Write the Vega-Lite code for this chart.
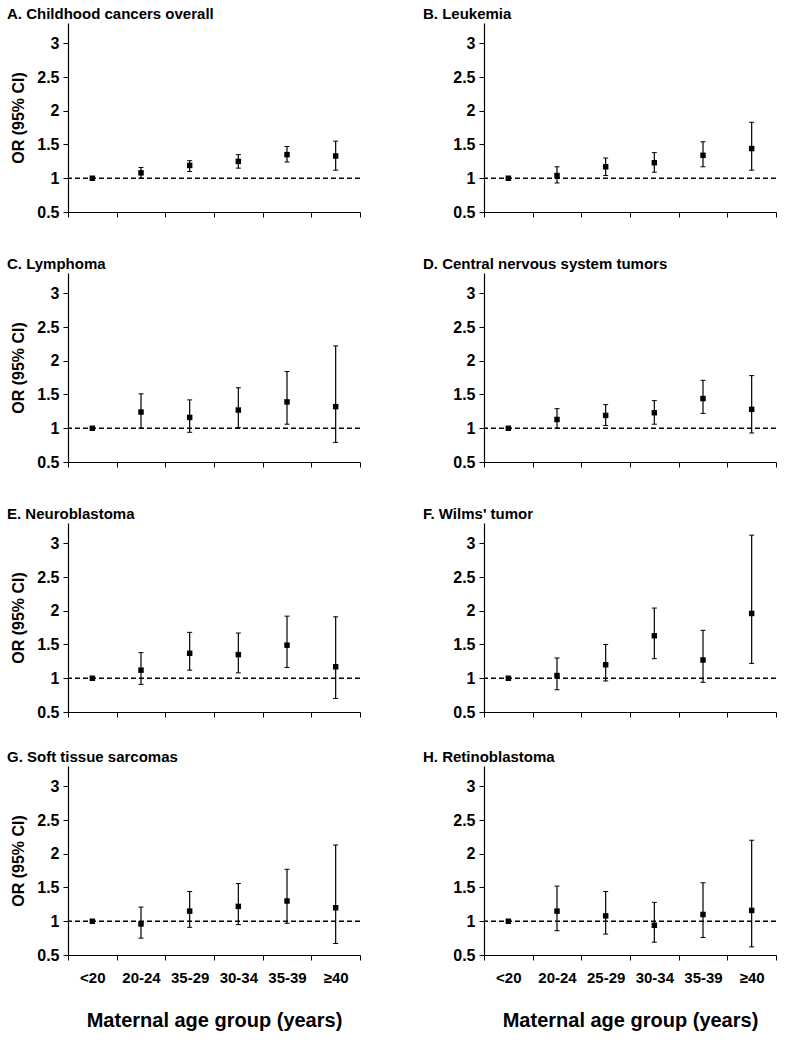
{
  "$schema": "https://vega.github.io/schema/vega-lite/v6.json",
  "padding": {"left": 7, "top": 7, "right": 5, "bottom": 5},
  "background": "white",
  "data": {"values": [
    {"panel": "A", "age": "<20", "or": 1.00, "lo": null, "hi": null},
    {"panel": "A", "age": "20-24", "or": 1.08, "lo": 1.00, "hi": 1.16},
    {"panel": "A", "age": "25-29", "or": 1.19, "lo": 1.10, "hi": 1.26},
    {"panel": "A", "age": "30-34", "or": 1.25, "lo": 1.15, "hi": 1.35},
    {"panel": "A", "age": "35-39", "or": 1.35, "lo": 1.24, "hi": 1.47},
    {"panel": "A", "age": "≥40", "or": 1.33, "lo": 1.12, "hi": 1.55},
    {"panel": "B", "age": "<20", "or": 1.00, "lo": null, "hi": null},
    {"panel": "B", "age": "20-24", "or": 1.04, "lo": 0.93, "hi": 1.17},
    {"panel": "B", "age": "25-29", "or": 1.17, "lo": 1.04, "hi": 1.30},
    {"panel": "B", "age": "30-34", "or": 1.23, "lo": 1.09, "hi": 1.38},
    {"panel": "B", "age": "35-39", "or": 1.34, "lo": 1.17, "hi": 1.54},
    {"panel": "B", "age": "≥40", "or": 1.44, "lo": 1.12, "hi": 1.83},
    {"panel": "C", "age": "<20", "or": 1.00, "lo": null, "hi": null},
    {"panel": "C", "age": "20-24", "or": 1.24, "lo": 1.00, "hi": 1.51},
    {"panel": "C", "age": "25-29", "or": 1.16, "lo": 0.94, "hi": 1.42},
    {"panel": "C", "age": "30-34", "or": 1.27, "lo": 1.01, "hi": 1.60},
    {"panel": "C", "age": "35-39", "or": 1.39, "lo": 1.06, "hi": 1.84},
    {"panel": "C", "age": "≥40", "or": 1.32, "lo": 0.79, "hi": 2.22},
    {"panel": "D", "age": "<20", "or": 1.00, "lo": null, "hi": null},
    {"panel": "D", "age": "20-24", "or": 1.13, "lo": 1.00, "hi": 1.29},
    {"panel": "D", "age": "25-29", "or": 1.19, "lo": 1.04, "hi": 1.35},
    {"panel": "D", "age": "30-34", "or": 1.23, "lo": 1.06, "hi": 1.41},
    {"panel": "D", "age": "35-39", "or": 1.44, "lo": 1.22, "hi": 1.71},
    {"panel": "D", "age": "≥40", "or": 1.28, "lo": 0.93, "hi": 1.78},
    {"panel": "E", "age": "<20", "or": 1.00, "lo": null, "hi": null},
    {"panel": "E", "age": "20-24", "or": 1.12, "lo": 0.91, "hi": 1.38},
    {"panel": "E", "age": "25-29", "or": 1.37, "lo": 1.12, "hi": 1.68},
    {"panel": "E", "age": "30-34", "or": 1.35, "lo": 1.08, "hi": 1.67},
    {"panel": "E", "age": "35-39", "or": 1.49, "lo": 1.16, "hi": 1.92},
    {"panel": "E", "age": "≥40", "or": 1.17, "lo": 0.70, "hi": 1.91},
    {"panel": "F", "age": "<20", "or": 1.00, "lo": null, "hi": null},
    {"panel": "F", "age": "20-24", "or": 1.04, "lo": 0.83, "hi": 1.30},
    {"panel": "F", "age": "25-29", "or": 1.20, "lo": 0.96, "hi": 1.50},
    {"panel": "F", "age": "30-34", "or": 1.63, "lo": 1.29, "hi": 2.04},
    {"panel": "F", "age": "35-39", "or": 1.27, "lo": 0.94, "hi": 1.71},
    {"panel": "F", "age": "≥40", "or": 1.96, "lo": 1.22, "hi": 3.12},
    {"panel": "G", "age": "<20", "or": 1.00, "lo": null, "hi": null},
    {"panel": "G", "age": "20-24", "or": 0.96, "lo": 0.75, "hi": 1.21},
    {"panel": "G", "age": "25-29", "or": 1.15, "lo": 0.91, "hi": 1.44},
    {"panel": "G", "age": "30-34", "or": 1.22, "lo": 0.95, "hi": 1.56},
    {"panel": "G", "age": "35-39", "or": 1.30, "lo": 0.97, "hi": 1.77},
    {"panel": "G", "age": "≥40", "or": 1.20, "lo": 0.67, "hi": 2.13},
    {"panel": "H", "age": "<20", "or": 1.00, "lo": null, "hi": null},
    {"panel": "H", "age": "20-24", "or": 1.15, "lo": 0.86, "hi": 1.52},
    {"panel": "H", "age": "25-29", "or": 1.08, "lo": 0.81, "hi": 1.44},
    {"panel": "H", "age": "30-34", "or": 0.94, "lo": 0.69, "hi": 1.28},
    {"panel": "H", "age": "35-39", "or": 1.10, "lo": 0.76, "hi": 1.57},
    {"panel": "H", "age": "≥40", "or": 1.16, "lo": 0.62, "hi": 2.20}
  ]},
  "vconcat": [
    {"vconcat": [
      {"hconcat": [
        {"width": 292, "height": 189, "title": "A. Childhood cancers overall",
         "layer": [
          {"data": {"values": [{}]}, "mark": {"type": "rule", "color": "black", "strokeDash": [5, 3], "strokeWidth": 1.4},
           "encoding": {"y": {"datum": 1, "type": "quantitative", "scale": {"domain": [0.5, 3.3], "nice": false}, "title": "OR (95% CI)"}}},
          {"transform": [{"filter": "datum.panel === 'A'"}],
           "encoding": {"x": {"field": "age", "type": "nominal", "scale": {"type": "band", "domain": ["<20", "20-24", "25-29", "30-34", "35-39", "≥40"], "paddingInner": 0, "paddingOuter": 0}, "axis": {"title": null, "labels": false, "tickBand": "extent"}}},
           "layer": [
            {"mark": {"type": "rule", "color": "black", "strokeWidth": 1.2}, "encoding": {"y": {"field": "lo", "type": "quantitative", "title": "OR (95% CI)"}, "y2": {"field": "hi"}}},
            {"mark": {"type": "tick", "orient": "horizontal", "size": 5, "thickness": 1, "color": "black", "opacity": 1}, "encoding": {"y": {"field": "lo", "type": "quantitative", "title": "OR (95% CI)"}}},
            {"mark": {"type": "tick", "orient": "horizontal", "size": 5, "thickness": 1, "color": "black", "opacity": 1}, "encoding": {"y": {"field": "hi", "type": "quantitative", "title": "OR (95% CI)"}}},
            {"mark": {"type": "square", "size": 30, "color": "black", "opacity": 1, "filled": true}, "encoding": {"y": {"field": "or", "type": "quantitative", "title": "OR (95% CI)"}}}
           ]}
         ]},
        {"width": 292, "height": 189, "title": "B. Leukemia",
         "layer": [
          {"data": {"values": [{}]}, "mark": {"type": "rule", "color": "black", "strokeDash": [5, 3], "strokeWidth": 1.4},
           "encoding": {"y": {"datum": 1, "type": "quantitative", "scale": {"domain": [0.5, 3.3], "nice": false}, "title": null}}},
          {"transform": [{"filter": "datum.panel === 'B'"}],
           "encoding": {"x": {"field": "age", "type": "nominal", "scale": {"type": "band", "domain": ["<20", "20-24", "25-29", "30-34", "35-39", "≥40"], "paddingInner": 0, "paddingOuter": 0}, "axis": {"title": null, "labels": false, "tickBand": "extent"}}},
           "layer": [
            {"mark": {"type": "rule", "color": "black", "strokeWidth": 1.2}, "encoding": {"y": {"field": "lo", "type": "quantitative", "title": null}, "y2": {"field": "hi"}}},
            {"mark": {"type": "tick", "orient": "horizontal", "size": 5, "thickness": 1, "color": "black", "opacity": 1}, "encoding": {"y": {"field": "lo", "type": "quantitative", "title": null}}},
            {"mark": {"type": "tick", "orient": "horizontal", "size": 5, "thickness": 1, "color": "black", "opacity": 1}, "encoding": {"y": {"field": "hi", "type": "quantitative", "title": null}}},
            {"mark": {"type": "square", "size": 30, "color": "black", "opacity": 1, "filled": true}, "encoding": {"y": {"field": "or", "type": "quantitative", "title": null}}}
           ]}
         ]}
      ]},
      {"hconcat": [
        {"width": 292, "height": 189, "title": "C. Lymphoma",
         "layer": [
          {"data": {"values": [{}]}, "mark": {"type": "rule", "color": "black", "strokeDash": [5, 3], "strokeWidth": 1.4},
           "encoding": {"y": {"datum": 1, "type": "quantitative", "scale": {"domain": [0.5, 3.3], "nice": false}, "title": "OR (95% CI)"}}},
          {"transform": [{"filter": "datum.panel === 'C'"}],
           "encoding": {"x": {"field": "age", "type": "nominal", "scale": {"type": "band", "domain": ["<20", "20-24", "25-29", "30-34", "35-39", "≥40"], "paddingInner": 0, "paddingOuter": 0}, "axis": {"title": null, "labels": false, "tickBand": "extent"}}},
           "layer": [
            {"mark": {"type": "rule", "color": "black", "strokeWidth": 1.2}, "encoding": {"y": {"field": "lo", "type": "quantitative", "title": "OR (95% CI)"}, "y2": {"field": "hi"}}},
            {"mark": {"type": "tick", "orient": "horizontal", "size": 5, "thickness": 1, "color": "black", "opacity": 1}, "encoding": {"y": {"field": "lo", "type": "quantitative", "title": "OR (95% CI)"}}},
            {"mark": {"type": "tick", "orient": "horizontal", "size": 5, "thickness": 1, "color": "black", "opacity": 1}, "encoding": {"y": {"field": "hi", "type": "quantitative", "title": "OR (95% CI)"}}},
            {"mark": {"type": "square", "size": 30, "color": "black", "opacity": 1, "filled": true}, "encoding": {"y": {"field": "or", "type": "quantitative", "title": "OR (95% CI)"}}}
           ]}
         ]},
        {"width": 292, "height": 189, "title": "D. Central nervous system tumors",
         "layer": [
          {"data": {"values": [{}]}, "mark": {"type": "rule", "color": "black", "strokeDash": [5, 3], "strokeWidth": 1.4},
           "encoding": {"y": {"datum": 1, "type": "quantitative", "scale": {"domain": [0.5, 3.3], "nice": false}, "title": null}}},
          {"transform": [{"filter": "datum.panel === 'D'"}],
           "encoding": {"x": {"field": "age", "type": "nominal", "scale": {"type": "band", "domain": ["<20", "20-24", "25-29", "30-34", "35-39", "≥40"], "paddingInner": 0, "paddingOuter": 0}, "axis": {"title": null, "labels": false, "tickBand": "extent"}}},
           "layer": [
            {"mark": {"type": "rule", "color": "black", "strokeWidth": 1.2}, "encoding": {"y": {"field": "lo", "type": "quantitative", "title": null}, "y2": {"field": "hi"}}},
            {"mark": {"type": "tick", "orient": "horizontal", "size": 5, "thickness": 1, "color": "black", "opacity": 1}, "encoding": {"y": {"field": "lo", "type": "quantitative", "title": null}}},
            {"mark": {"type": "tick", "orient": "horizontal", "size": 5, "thickness": 1, "color": "black", "opacity": 1}, "encoding": {"y": {"field": "hi", "type": "quantitative", "title": null}}},
            {"mark": {"type": "square", "size": 30, "color": "black", "opacity": 1, "filled": true}, "encoding": {"y": {"field": "or", "type": "quantitative", "title": null}}}
           ]}
         ]}
      ]},
      {"hconcat": [
        {"width": 292, "height": 189, "title": "E. Neuroblastoma",
         "layer": [
          {"data": {"values": [{}]}, "mark": {"type": "rule", "color": "black", "strokeDash": [5, 3], "strokeWidth": 1.4},
           "encoding": {"y": {"datum": 1, "type": "quantitative", "scale": {"domain": [0.5, 3.3], "nice": false}, "title": "OR (95% CI)"}}},
          {"transform": [{"filter": "datum.panel === 'E'"}],
           "encoding": {"x": {"field": "age", "type": "nominal", "scale": {"type": "band", "domain": ["<20", "20-24", "25-29", "30-34", "35-39", "≥40"], "paddingInner": 0, "paddingOuter": 0}, "axis": {"title": null, "labels": false, "tickBand": "extent"}}},
           "layer": [
            {"mark": {"type": "rule", "color": "black", "strokeWidth": 1.2}, "encoding": {"y": {"field": "lo", "type": "quantitative", "title": "OR (95% CI)"}, "y2": {"field": "hi"}}},
            {"mark": {"type": "tick", "orient": "horizontal", "size": 5, "thickness": 1, "color": "black", "opacity": 1}, "encoding": {"y": {"field": "lo", "type": "quantitative", "title": "OR (95% CI)"}}},
            {"mark": {"type": "tick", "orient": "horizontal", "size": 5, "thickness": 1, "color": "black", "opacity": 1}, "encoding": {"y": {"field": "hi", "type": "quantitative", "title": "OR (95% CI)"}}},
            {"mark": {"type": "square", "size": 30, "color": "black", "opacity": 1, "filled": true}, "encoding": {"y": {"field": "or", "type": "quantitative", "title": "OR (95% CI)"}}}
           ]}
         ]},
        {"width": 292, "height": 189, "title": "F. Wilms' tumor",
         "layer": [
          {"data": {"values": [{}]}, "mark": {"type": "rule", "color": "black", "strokeDash": [5, 3], "strokeWidth": 1.4},
           "encoding": {"y": {"datum": 1, "type": "quantitative", "scale": {"domain": [0.5, 3.3], "nice": false}, "title": null}}},
          {"transform": [{"filter": "datum.panel === 'F'"}],
           "encoding": {"x": {"field": "age", "type": "nominal", "scale": {"type": "band", "domain": ["<20", "20-24", "25-29", "30-34", "35-39", "≥40"], "paddingInner": 0, "paddingOuter": 0}, "axis": {"title": null, "labels": false, "tickBand": "extent"}}},
           "layer": [
            {"mark": {"type": "rule", "color": "black", "strokeWidth": 1.2}, "encoding": {"y": {"field": "lo", "type": "quantitative", "title": null}, "y2": {"field": "hi"}}},
            {"mark": {"type": "tick", "orient": "horizontal", "size": 5, "thickness": 1, "color": "black", "opacity": 1}, "encoding": {"y": {"field": "lo", "type": "quantitative", "title": null}}},
            {"mark": {"type": "tick", "orient": "horizontal", "size": 5, "thickness": 1, "color": "black", "opacity": 1}, "encoding": {"y": {"field": "hi", "type": "quantitative", "title": null}}},
            {"mark": {"type": "square", "size": 30, "color": "black", "opacity": 1, "filled": true}, "encoding": {"y": {"field": "or", "type": "quantitative", "title": null}}}
           ]}
         ]}
      ]}
    ], "spacing": 37},
    {"hconcat": [
      {"width": 292, "height": 189, "title": "G. Soft tissue sarcomas",
       "layer": [
        {"data": {"values": [{}]}, "mark": {"type": "rule", "color": "black", "strokeDash": [5, 3], "strokeWidth": 1.4},
         "encoding": {"y": {"datum": 1, "type": "quantitative", "scale": {"domain": [0.5, 3.3], "nice": false}, "title": "OR (95% CI)"}}},
        {"transform": [{"filter": "datum.panel === 'G'"}],
         "encoding": {"x": {"field": "age", "type": "nominal", "scale": {"type": "band", "domain": ["<20", "20-24", "25-29", "30-34", "35-39", "≥40"], "paddingInner": 0, "paddingOuter": 0}, "axis": {"title": "Maternal age group (years)", "labelAngle": 0, "labelPadding": 10, "labelExpr": "datum.label === '25-29' ? '35-29' : datum.label", "titleFontSize": 20, "titlePadding": 25, "tickBand": "extent"}}},
         "layer": [
          {"mark": {"type": "rule", "color": "black", "strokeWidth": 1.2}, "encoding": {"y": {"field": "lo", "type": "quantitative", "title": "OR (95% CI)"}, "y2": {"field": "hi"}}},
          {"mark": {"type": "tick", "orient": "horizontal", "size": 5, "thickness": 1, "color": "black", "opacity": 1}, "encoding": {"y": {"field": "lo", "type": "quantitative", "title": "OR (95% CI)"}}},
          {"mark": {"type": "tick", "orient": "horizontal", "size": 5, "thickness": 1, "color": "black", "opacity": 1}, "encoding": {"y": {"field": "hi", "type": "quantitative", "title": "OR (95% CI)"}}},
          {"mark": {"type": "square", "size": 30, "color": "black", "opacity": 1, "filled": true}, "encoding": {"y": {"field": "or", "type": "quantitative", "title": "OR (95% CI)"}}}
         ]}
       ]},
      {"width": 292, "height": 189, "title": "H. Retinoblastoma",
       "layer": [
        {"data": {"values": [{}]}, "mark": {"type": "rule", "color": "black", "strokeDash": [5, 3], "strokeWidth": 1.4},
         "encoding": {"y": {"datum": 1, "type": "quantitative", "scale": {"domain": [0.5, 3.3], "nice": false}, "title": null}}},
        {"transform": [{"filter": "datum.panel === 'H'"}],
         "encoding": {"x": {"field": "age", "type": "nominal", "scale": {"type": "band", "domain": ["<20", "20-24", "25-29", "30-34", "35-39", "≥40"], "paddingInner": 0, "paddingOuter": 0}, "axis": {"title": "Maternal age group (years)", "labelAngle": 0, "labelPadding": 10, "titleFontSize": 20, "titlePadding": 25, "tickBand": "extent"}}},
         "layer": [
          {"mark": {"type": "rule", "color": "black", "strokeWidth": 1.2}, "encoding": {"y": {"field": "lo", "type": "quantitative", "title": null}, "y2": {"field": "hi"}}},
          {"mark": {"type": "tick", "orient": "horizontal", "size": 5, "thickness": 1, "color": "black", "opacity": 1}, "encoding": {"y": {"field": "lo", "type": "quantitative", "title": null}}},
          {"mark": {"type": "tick", "orient": "horizontal", "size": 5, "thickness": 1, "color": "black", "opacity": 1}, "encoding": {"y": {"field": "hi", "type": "quantitative", "title": null}}},
          {"mark": {"type": "square", "size": 30, "color": "black", "opacity": 1, "filled": true}, "encoding": {"y": {"field": "or", "type": "quantitative", "title": null}}}
         ]}
       ]}
    ]}
  ],
  "spacing": 30,
  "config": {
    "view": {"stroke": null},
    "concat": {"spacing": 62},
    "font": "Liberation Sans",
    "axis": {"grid": false, "domainColor": "black", "domainWidth": 1.2, "tickColor": "black", "tickSize": 5, "labelColor": "black", "titleColor": "black", "labelFont": "Liberation Sans", "titleFont": "Liberation Sans", "labelFontSize": 15, "labelFontWeight": "bold", "titleFontSize": 15, "titleFontWeight": "bold"},
    "axisY": {"values": [0.5, 1, 1.5, 2, 2.5, 3], "format": "~g", "labelFontSize": 16, "titleFontSize": 16, "labelPadding": 4, "titlePadding": 10},
    "title": {"font": "Liberation Sans", "fontSize": 15, "fontWeight": "bold", "color": "black", "anchor": "start", "frame": "group", "dx": -61, "offset": 1}
  }
}
